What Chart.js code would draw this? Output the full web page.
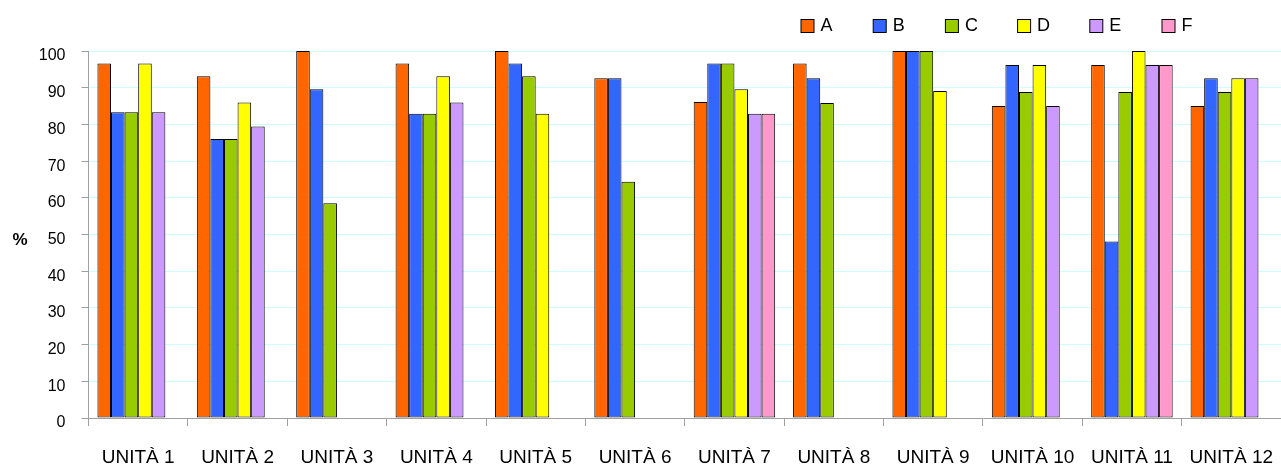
<!DOCTYPE html>
<html>
<head>
<meta charset="utf-8">
<script src="https://cdn.jsdelivr.net/npm/chart.js@4/dist/chart.umd.min.js"></script>
<style>
    html, body { margin: 0; padding: 0; background: #fff; }
    #wrap { width: 1281px; height: 465px; }
</style>
</head>
<body>
<div id="wrap"><canvas id="barChart"></canvas></div>
<script>
// Categories and series (percent values)
const units = ['UNITÀ 1', 'UNITÀ 2', 'UNITÀ 3', 'UNITÀ 4', 'UNITÀ 5', 'UNITÀ 6',
    'UNITÀ 7', 'UNITÀ 8', 'UNITÀ 9', 'UNITÀ 10', 'UNITÀ 11', 'UNITÀ 12'];
const seriesNames = ['A', 'B', 'C', 'D', 'E', 'F'];
const seriesA = [96.6, 93.1, 100, 96.6, 100, 92.6, 86.1, 96.6, 100, 85.0, 96.2, 85.0];
const seriesB = [83.3, 76.0, 89.6, 82.9, 96.6, 92.6, 96.6, 92.6, 100, 96.2, 48.1, 92.6];
const seriesC = [83.3, 76.0, 58.5, 82.9, 93.1, 64.4, 96.6, 85.8, 100, 88.8, 88.8, 88.8];
const seriesD = [96.6, 86.0, null, 93.1, 82.9, null, 89.6, null, 89.1, 96.2, 100, 92.6];
const seriesE = [83.3, 79.4, null, 86.0, null, null, 82.9, null, null, 85.0, 96.2, 92.6];
const seriesF = [null, null, null, null, null, null, 82.9, null, null, null, 96.2, null];
const yTicks = [0, 10, 20, 30, 40, 50, 60, 70, 80, 90, 100];

const colors = ['#FF6600', '#3366FF', '#99CC00', '#FFFF00', '#CC99FF', '#FF99CC'];
const allSeries = [seriesA, seriesB, seriesC, seriesD, seriesE, seriesF];

const font = 'Liberation Sans, Arial, sans-serif';

// Legend drawn at the top right, like the original
const legendPlugin = {
    id: 'topLegend',
    afterDraw(chart) {
        const ctx = chart.ctx;
        ctx.save();
        ctx.font = '18px ' + font;
        ctx.textBaseline = 'middle';
        ctx.textAlign = 'left';
        chart.data.datasets.forEach((ds, i) => {
            const x = 801 + i * 72.2;
            ctx.fillStyle = ds.backgroundColor;
            ctx.fillRect(x, 19.5, 13, 13);
            ctx.strokeStyle = '#000';
            ctx.lineWidth = 1;
            ctx.strokeRect(x, 19.5, 13, 13);
            ctx.fillStyle = '#000';
            ctx.fillText(ds.label, x + 19.5, 26.5);
        });
        ctx.restore();
    }
};

// Unrotated "%" axis title
const percentTitle = {
    id: 'percentTitle',
    afterDraw(chart) {
        const ctx = chart.ctx;
        const y = chart.scales.y.getPixelForValue(50);
        ctx.save();
        ctx.font = 'bold 17px ' + font;
        ctx.fillStyle = '#000';
        ctx.textAlign = 'center';
        ctx.textBaseline = 'middle';
        ctx.fillText('%', 20, y + 6);
        ctx.restore();
    }
};

new Chart(document.getElementById('barChart'), {
    type: 'bar',
    data: {
        labels: units,
        datasets: seriesNames.map((name, i) => ({
            label: name,
            data: allSeries[i],
            backgroundColor: colors[i],
            borderColor: '#000',
            borderWidth: 1,
            borderSkipped: false,
            categoryPercentage: 0.82,
            barPercentage: 1.0
        }))
    },
    options: {
        responsive: true,
        maintainAspectRatio: false,
        animation: false,
        layout: { padding: { top: 51, right: -6, left: 0, bottom: 0 } },
        plugins: {
            legend: { display: false },
            tooltip: { enabled: false }
        },
        scales: {
            x: {
                grid: {
                    offset: true,
                    drawOnChartArea: false,
                    drawTicks: true,
                    tickLength: 8,
                    tickColor: '#a0a0a0'
                },
                border: { color: '#a0a0a0', width: 1 },
                ticks: {
                    color: '#000',
                    font: { family: font, size: 19 },
                    padding: 20,
                    maxRotation: 0,
                    autoSkip: false
                },
                afterFit(scale) {
                    scale.height = 47;
                    scale.paddingLeft = 0;
                    scale.paddingRight = 0;
                }
            },
            y: {
                min: 0,
                max: 100,
                afterBuildTicks(scale) { scale.ticks = yTicks.map(v => ({ value: v })); },
                grid: {
                    color: '#ccffff',
                    lineWidth: 1,
                    tickLength: 7,
                    tickColor: '#a0a0a0'
                },
                border: { color: '#a0a0a0', width: 1 },
                ticks: {
                    color: '#000',
                    font: { family: font, size: 16 },
                    padding: 16,
                    labelOffset: 5
                },
                afterFit(scale) { scale.width = 88.5; }
            }
        }
    },
    plugins: [legendPlugin, percentTitle]
});
</script>
</body>
</html>
